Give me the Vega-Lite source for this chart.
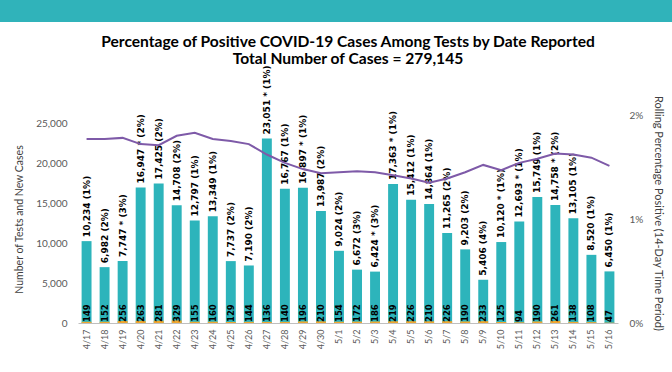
{
  "$schema": "https://vega.github.io/schema/vega-lite/v6.json",
  "padding": 0,
  "background": "white",
  "spacing": 12,
  "config": {"view": {"stroke": null}},
  "datasets": {
    "d": [
      {"date": "4/17", "tests": 10234, "cases": 149, "label": "10,234 (1%)", "rate": 0.0177},
      {"date": "4/18", "tests": 6982, "cases": 152, "label": "6,982 (2%)", "rate": 0.0177},
      {"date": "4/19", "tests": 7747, "cases": 256, "label": "7,747 * (3%)", "rate": 0.0178},
      {"date": "4/20", "tests": 16947, "cases": 263, "label": "16,947 * (2%)", "rate": 0.0172},
      {"date": "4/21", "tests": 17425, "cases": 281, "label": "17,425 (2%)", "rate": 0.0171},
      {"date": "4/22", "tests": 14708, "cases": 329, "label": "14,708 (2%)", "rate": 0.0180},
      {"date": "4/23", "tests": 12797, "cases": 155, "label": "12,797 (1%)", "rate": 0.0183},
      {"date": "4/24", "tests": 13349, "cases": 160, "label": "13,349 (1%)", "rate": 0.0177},
      {"date": "4/25", "tests": 7737, "cases": 129, "label": "7,737 (2%)", "rate": 0.0175},
      {"date": "4/26", "tests": 7190, "cases": 144, "label": "7,190 (2%)", "rate": 0.0172},
      {"date": "4/27", "tests": 23051, "cases": 136, "label": "23,051 * (1%)", "rate": 0.0162},
      {"date": "4/28", "tests": 16767, "cases": 140, "label": "16,767 (1%)", "rate": 0.0154},
      {"date": "4/29", "tests": 16897, "cases": 196, "label": "16,897 * (1%)", "rate": 0.0148},
      {"date": "4/30", "tests": 13987, "cases": 210, "label": "13,987 (2%)", "rate": 0.0144},
      {"date": "5/1", "tests": 9024, "cases": 154, "label": "9,024 (2%)", "rate": 0.0145},
      {"date": "5/2", "tests": 6672, "cases": 172, "label": "6,672 (3%)", "rate": 0.0146},
      {"date": "5/3", "tests": 6424, "cases": 186, "label": "6,424 * (3%)", "rate": 0.0145},
      {"date": "5/4", "tests": 17363, "cases": 219, "label": "17,363 * (1%)", "rate": 0.0142},
      {"date": "5/5", "tests": 15412, "cases": 226, "label": "15,412 (1%)", "rate": 0.0139},
      {"date": "5/6", "tests": 14864, "cases": 210, "label": "14,864 (1%)", "rate": 0.0135},
      {"date": "5/7", "tests": 11265, "cases": 226, "label": "11,265 (2%)", "rate": 0.0139},
      {"date": "5/8", "tests": 9203, "cases": 190, "label": "9,203 (2%)", "rate": 0.0145},
      {"date": "5/9", "tests": 5406, "cases": 233, "label": "5,406 (4%)", "rate": 0.0152},
      {"date": "5/10", "tests": 10120, "cases": 125, "label": "10,120 * (1%)", "rate": 0.0147},
      {"date": "5/11", "tests": 12693, "cases": 94, "label": "12,693 * (1%)", "rate": 0.0154},
      {"date": "5/12", "tests": 15749, "cases": 190, "label": "15,749 (1%)", "rate": 0.0158},
      {"date": "5/13", "tests": 14758, "cases": 261, "label": "14,758 * (2%)", "rate": 0.0163},
      {"date": "5/14", "tests": 13105, "cases": 138, "label": "13,105 (1%)", "rate": 0.0162},
      {"date": "5/15", "tests": 8520, "cases": 108, "label": "8,520 (1%)", "rate": 0.0159},
      {"date": "5/16", "tests": 6450, "cases": 47, "label": "6,450 (1%)", "rate": 0.0151}
    ]
  },
  "vconcat": [
    {
      "width": 672,
      "height": 22,
      "view": {"fill": "#30b3ba", "stroke": null},
      "data": {"values": [{"t": ""}]},
      "mark": {"type": "text"},
      "encoding": {"text": {"field": "t"}}
    },
    {
      "spacing": 0,
      "hconcat": [
        {
          "width": 14,
          "height": 10,
          "data": {"values": [{"t": ""}]},
          "mark": {"type": "text"},
          "encoding": {"text": {"field": "t"}}
        },
        {
          "width": 540,
          "height": 208,
          "title": {
            "text": ["Percentage of Positive COVID-19 Cases Among Tests by Date Reported", "Total Number of Cases = 279,145"],
            "font": "Lato",
            "fontSize": 15.6,
            "fontWeight": "bold",
            "color": "#000000",
            "anchor": "middle",
            "lineHeight": 17,
            "offset": -2
          },
          "data": {"name": "d"},
          "encoding": {
            "x": {
              "field": "date",
              "type": "ordinal",
              "sort": null,
              "scale": {"paddingInner": 0.45, "paddingOuter": 0.2},
              "axis": {
                "title": null,
                "labelAngle": 270,
                "labelFont": "Lato",
                "labelFontSize": 9,
                "labelColor": "#595959",
                "ticks": false,
                "domainColor": "#bfbfbf",
                "labelPadding": 6
              }
            }
          },
          "layer": [
            {
              "layer": [
                {
                  "mark": {"type": "bar", "color": "#2db4bb"},
                  "encoding": {
                    "y": {
                      "field": "tests",
                      "type": "quantitative",
                      "scale": {"domain": [0, 25000]},
                      "axis": {
                        "title": "Number of Tests and New Cases",
                        "titleFont": "Lato",
                        "titleFontSize": 10.5,
                        "titleFontWeight": "normal",
                        "titleColor": "#404040",
                        "titlePadding": 11,
                        "labelFont": "Lato",
                        "labelFontSize": 10,
                        "labelColor": "#595959",
                        "labelPadding": 11,
                        "values": [0, 5000, 10000, 15000, 20000, 25000],
                        "format": ",d",
                        "grid": false,
                        "domain": false,
                        "ticks": false
                      }
                    }
                  }
                },
                {
                  "mark": {"type": "bar", "color": "#f0a830"},
                  "encoding": {"y": {"field": "cases", "type": "quantitative"}}
                },
                {
                  "mark": {"type": "text", "angle": 270, "align": "left", "baseline": "middle", "dx": 4, "font": "DejaVu Sans", "fontWeight": "bold", "fontSize": 9, "color": "#000000"},
                  "encoding": {
                    "y": {"field": "tests", "type": "quantitative"},
                    "text": {"field": "label"}
                  }
                },
                {
                  "mark": {"type": "text", "angle": 270, "align": "left", "baseline": "middle", "dx": 1, "font": "DejaVu Sans", "fontWeight": "bold", "fontSize": 8.5, "color": "#000000"},
                  "encoding": {
                    "y": {"datum": 0, "type": "quantitative"},
                    "text": {"field": "cases", "type": "quantitative", "format": "d"}
                  }
                }
              ]
            },
            {
              "mark": {"type": "line", "color": "#7e5aa8", "strokeWidth": 2},
              "encoding": {
                "y": {
                  "field": "rate",
                  "type": "quantitative",
                  "scale": {"domain": [0, 0.02]},
                  "axis": {
                    "orient": "right",
                    "title": "Rolling Percentage Positive (14-Day Time Period)",
                    "titleFont": "Lato",
                    "titleFontSize": 11,
                    "titleFontWeight": "normal",
                    "titleColor": "#404040",
                    "titlePadding": 10,
                    "titleY": 98,
                    "labelFont": "Lato",
                    "labelFontSize": 10,
                    "labelColor": "#595959",
                    "labelPadding": 11,
                    "values": [0, 0.01, 0.02],
                    "format": ".0%",
                    "grid": false,
                    "domain": false,
                    "ticks": false
                  }
                }
              }
            }
          ],
          "resolve": {"scale": {"y": "independent"}}
        }
      ]
    }
  ]
}
